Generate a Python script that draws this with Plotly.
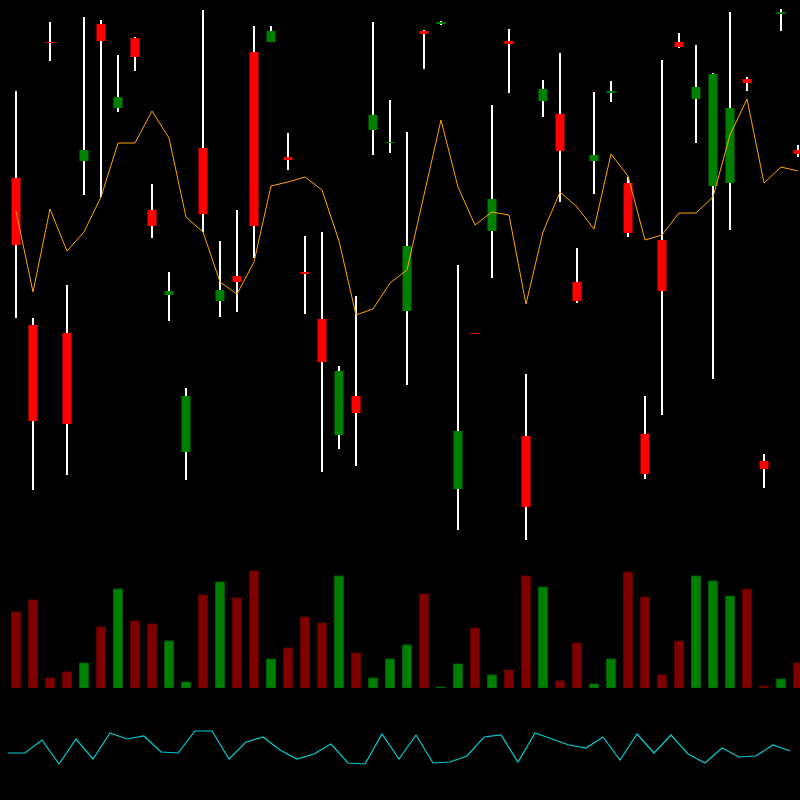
import plotly.graph_objects as go

# ---- data (arbitrary price units) ----
opens  = [622, 475, 758, 467, 639, 776, 692, 762, 590, 505, 348, 652, 499, 524, 748, 758,
          643, 528, 481, 365, 404, 670, 657, 489, 769, 776.5, 311, 467, 569, 759, 364, 699,
          686, 518, 639, 707, 617, 366, 560, 758, 701, 614, 617, 721, 339, 786, 650]
highs  = [709, 482, 778, 515, 783, 780, 745, 763, 616, 528, 412, 790, 559, 590, 774, 774,
          667, 564, 568, 434, 504, 778, 700, 668, 770, 779, 535, 467, 695, 771, 426, 720,
          747, 552, 708, 719, 623, 404, 740, 767, 755, 727, 788, 723, 346, 791, 655]
lows   = [482, 310, 739, 325, 605, 603, 688, 729, 562, 479, 320, 568, 483, 488, 542, 758,
          630, 486, 328, 351, 334, 645, 647, 415, 731, 775, 270, 466.5, 522, 707, 260, 683,
          598, 497, 606, 698, 563, 321, 385, 752, 657, 421, 570, 709, 312, 769, 643]
closes = [555, 379, 757, 376, 650, 759, 703, 743, 574, 509, 404, 586, 510, 518, 574, 769,
          640, 526, 438, 429, 387, 685, 658, 554, 766, 777.5, 369, 466.5, 601, 756, 293, 711,
          649, 499, 645, 709, 567, 326, 509, 753, 713, 726, 692, 717, 331, 788, 646]
average = [589, 508, 591, 549, 568, 603, 657, 657, 689, 662, 583, 568, 518, 506, 538, 614,
           618, 623, 610, 559, 485, 491, 517, 530, 605, 680, 613, 575, 588, 585, 496, 568,
           608, 593, 571, 646, 624, 560, 565, 587, 587, 603, 665, 701, 617, 633, 629]
volume = [76, 88, 10, 16, 25, 61, 99, 67, 64, 47, 6, 93, 106, 90, 117, 29,
          40, 71, 65, 112, 35, 10, 29, 43, 94, 1, 24, 60, 13, 18, 112, 101,
          7, 45, 4, 29, 116, 91, 13, 47, 112, 107, 92, 99, 2, 9, 25]
oscillator = [47, 47, 60, 36, 61, 41, 67, 61, 64, 48, 47, 69, 69, 41, 58, 63,
              50, 41, 46, 56, 37, 36, 66, 41, 65, 37, 38, 44, 63, 65, 38, 67,
              61, 55, 52, 63, 40, 66, 47, 65, 46, 37, 52, 43, 44, 55, 49]

n = len(opens)
idx = list(range(n))
up = [c >= o for o, c in zip(opens, closes)]

body_col = ['#008000' if u else '#FF0000' for u in up]
vol_col = ['#008000' if u else '#800000' for u in up]
vol_line = ['#005a00' if u else '#5a0000' for u in up]

fig = go.Figure()

# wicks (high-low), drawn first so bodies cover them
fig.add_trace(go.Bar(x=idx,
                     y=[h - l for h, l in zip(highs, lows)],
                     base=lows,
                     width=1 / 17,
                     marker=dict(color='#FFFFFF', line=dict(width=0)),
                     hoverinfo='skip', xaxis='x', yaxis='y'))

# bodies (open-close)
fig.add_trace(go.Bar(x=idx,
                     y=[abs(c - o) for o, c in zip(opens, closes)],
                     base=[min(o, c) for o, c in zip(opens, closes)],
                     width=0.53,
                     marker=dict(color=body_col, line=dict(width=0)),
                     xaxis='x', yaxis='y'))

fig.add_trace(go.Scatter(x=idx, y=average, mode='lines',
                         line=dict(color='#FFA500', width=1),
                         xaxis='x', yaxis='y'))

fig.add_trace(go.Bar(x=idx, y=volume, width=0.53,
                     marker=dict(color=vol_col, line=dict(color=vol_line, width=1)),
                     xaxis='x', yaxis='y2'))

fig.add_trace(go.Scatter(x=idx, y=oscillator, mode='lines',
                         line=dict(color='#00CED1', width=1.2),
                         xaxis='x2', yaxis='y3'))

hidden = dict(visible=False, showgrid=False, zeroline=False, fixedrange=True)

fig.update_layout(
    width=800, height=800,
    margin=dict(l=0, r=0, t=0, b=0),
    paper_bgcolor='#000000', plot_bgcolor='rgba(0,0,0,0)',
    showlegend=False, barmode='overlay',
    xaxis=dict(range=[-16 / 17, 784 / 17], domain=[0, 1], anchor='y', **hidden),
    xaxis2=dict(range=[-8 / 17, 792 / 17], domain=[0, 1], anchor='y3', **hidden),
    yaxis=dict(range=[0, 800], domain=[0, 1], anchor='x', **hidden),
    yaxis2=dict(range=[0, 688], domain=[0.14, 1], anchor='x', **hidden),
    yaxis3=dict(range=[0, 800], domain=[0, 1], anchor='x2', **hidden),
)

fig.write_html("out.html",
               config={'displayModeBar': False},
               post_script="document.body.style.margin='0';"
                           "document.body.style.background='#000000';"
                           "document.body.style.overflow='hidden';")
